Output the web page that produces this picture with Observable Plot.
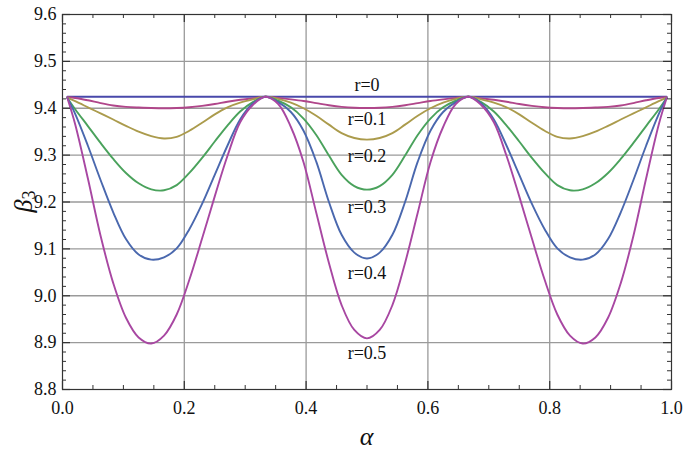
<!DOCTYPE html>
<html><head><meta charset="utf-8">
<script src="https://cdn.jsdelivr.net/npm/d3@7"></script>
<script src="https://cdn.jsdelivr.net/npm/@observablehq/plot@0.6"></script>
<style>body{margin:0;background:#fff} svg text{font-family:'Liberation Serif','DejaVu Serif',serif;}</style>
</head><body><div id="chart"></div>
<script>
// ---- data ----
const alpha = [0.008, 0.0208, 0.0417, 0.0625, 0.0833, 0.1042, 0.125, 0.1458, 0.1667, 0.1875, 0.2083, 0.2292, 0.25, 0.2708, 0.2917, 0.3125, 0.3333,
  0.3542, 0.375, 0.3958, 0.4167, 0.4375, 0.4583, 0.4792, 0.5, 0.5208, 0.5417, 0.5625, 0.5833, 0.6042, 0.625, 0.6458, 0.6667,
  0.6875, 0.7083, 0.7292, 0.75, 0.7708, 0.7917, 0.8125, 0.8333, 0.8542, 0.875, 0.8958, 0.9167, 0.9375, 0.9583, 0.9792, 0.992];

const seriesNames = ["r=0", "r=0.1", "r=0.2", "r=0.3", "r=0.4", "r=0.5"];

const alphaR0 = [0.008, 0.992];
const betaR0 = [9.4245, 9.4245];

const betaR01 = [9.4235, 9.422, 9.417, 9.411, 9.406, 9.403, 9.4015, 9.4005, 9.40, 9.4005, 9.402, 9.405, 9.409, 9.414, 9.418, 9.421, 9.4245,
  9.422, 9.419, 9.4155, 9.411, 9.4065, 9.403, 9.401, 9.4005, 9.401, 9.403, 9.4065, 9.411, 9.4155, 9.419, 9.422, 9.4245,
  9.421, 9.418, 9.414, 9.409, 9.405, 9.402, 9.4005, 9.40, 9.4005, 9.4015, 9.403, 9.406, 9.411, 9.417, 9.422, 9.4235];

const betaR02 = [9.4225, 9.415, 9.402, 9.389, 9.376, 9.3625, 9.35, 9.3405, 9.3355, 9.339, 9.352, 9.369, 9.387, 9.402, 9.412, 9.419, 9.4245,
  9.420, 9.412, 9.400, 9.384, 9.365, 9.347, 9.3365, 9.333, 9.3365, 9.347, 9.365, 9.384, 9.400, 9.412, 9.420, 9.4245,
  9.419, 9.412, 9.402, 9.387, 9.369, 9.352, 9.339, 9.3355, 9.3405, 9.35, 9.3625, 9.376, 9.389, 9.402, 9.415, 9.4225];

const betaR03 = [9.422, 9.398, 9.362, 9.326, 9.292, 9.262, 9.240, 9.227, 9.225, 9.236, 9.262, 9.294, 9.329, 9.363, 9.393, 9.413, 9.4245,
  9.416, 9.402, 9.378, 9.343, 9.299, 9.258, 9.234, 9.2263, 9.234, 9.258, 9.299, 9.343, 9.378, 9.402, 9.416, 9.4245,
  9.413, 9.393, 9.363, 9.329, 9.294, 9.262, 9.236, 9.225, 9.227, 9.240, 9.262, 9.292, 9.326, 9.362, 9.398, 9.422];

const betaR04 = [9.422, 9.388, 9.32, 9.247, 9.178, 9.121, 9.088, 9.077, 9.082, 9.101, 9.142, 9.196, 9.258, 9.32, 9.376, 9.41, 9.4245,
  9.413, 9.392, 9.352, 9.286, 9.2, 9.13, 9.092, 9.0795, 9.092, 9.13, 9.2, 9.286, 9.352, 9.392, 9.413, 9.4245,
  9.41, 9.376, 9.32, 9.258, 9.196, 9.142, 9.101, 9.082, 9.077, 9.088, 9.121, 9.178, 9.247, 9.32, 9.388, 9.422];

const betaR05 = [9.422, 9.366, 9.25, 9.128, 9.027, 8.953, 8.911, 8.898, 8.915, 8.96, 9.034, 9.122, 9.212, 9.298, 9.370, 9.407, 9.4245,
  9.409, 9.36, 9.285, 9.177, 9.07, 8.98, 8.927, 8.909, 8.927, 8.98, 9.07, 9.177, 9.285, 9.36, 9.409, 9.4245,
  9.407, 9.370, 9.298, 9.212, 9.122, 9.034, 8.96, 8.915, 8.898, 8.911, 8.953, 9.027, 9.128, 9.25, 9.366, 9.422];

const seriesColors = ["#4848aa", "#b0468a", "#ab9b4c", "#4aa25c", "#4a68ae", "#a847a2"];

const xMajorTicks = [0, 0.2, 0.4, 0.6, 0.8, 1.0];
const xGridTicks = [0.2, 0.4, 0.6, 0.8];
const xMinorTicks = [0.05, 0.1, 0.15, 0.25, 0.3, 0.35, 0.45, 0.5, 0.55, 0.65, 0.7, 0.75, 0.85, 0.9, 0.95];
const yMajorTicks = [8.8, 8.9, 9.0, 9.1, 9.2, 9.3, 9.4, 9.5, 9.6];
const yGridTicks = [8.9, 9.0, 9.1, 9.2, 9.3, 9.4, 9.5];
const yMinorTicks = [8.82, 8.84, 8.86, 8.88, 8.92, 8.94, 8.96, 8.98, 9.02, 9.04, 9.06, 9.08, 9.12, 9.14, 9.16, 9.18,
  9.22, 9.24, 9.26, 9.28, 9.32, 9.34, 9.36, 9.38, 9.42, 9.44, 9.46, 9.48, 9.52, 9.54, 9.56, 9.58];

const labelText = ["r=0", "r=0.1", "r=0.2", "r=0.3", "r=0.4", "r=0.5"];
const labelAlpha = [0.5, 0.5, 0.5, 0.5, 0.5, 0.5];
const labelBeta = [9.4485, 9.3773, 9.2968, 9.1885, 9.0474, 8.8765];

// ---- build tables ----
const seriesAlpha = [alphaR0, alpha, alpha, alpha, alpha, alpha];
const seriesBeta = [betaR0, betaR01, betaR02, betaR03, betaR04, betaR05];
const rows = [];
seriesNames.forEach((name, s) => {
  seriesBeta[s].forEach((b, i) => rows.push({alpha: seriesAlpha[s][i], beta: b, r: name}));
});
const labels = labelText.map((t, i) => ({text: t, alpha: labelAlpha[i], beta: labelBeta[i]}));

const W = 685, H = 457, mL = 62, mR = 14, mT = 14, mB = 68;
const fw = W - mL - mR, fh = H - mT - mB;
const axisColor = "#333";
const majorLen = 8, minorLen = 4;
const serif = "'Liberation Serif', 'DejaVu Serif', serif";

const chart = Plot.plot({
  width: W, height: H,
  marginLeft: mL, marginRight: mR, marginTop: mT, marginBottom: mB,
  x: {domain: [0, 1]},
  y: {domain: [8.8, 9.6]},
  color: {domain: seriesNames, range: seriesColors},
  style: {fontFamily: serif, fontSize: "18px", background: "#fff", color: "#111", overflow: "visible"},
  marks: [
    Plot.gridX(xGridTicks, {stroke: "#9a9a9a", strokeOpacity: 1, strokeWidth: 1.3}),
    Plot.gridY(yGridTicks, {stroke: "#9a9a9a", strokeOpacity: 1, strokeWidth: 1.3}),
    Plot.line(rows, {x: "alpha", y: "beta", z: "r", stroke: "r", strokeWidth: 1.9, curve: "catmull-rom"}),
    Plot.text(labels, {x: "alpha", y: "beta", text: "text", fontSize: 18, fontFamily: serif, fill: "#111"}),
    Plot.frame({stroke: axisColor, strokeWidth: 1.2}),
    // inward ticks: left / right
    Plot.tickY(yMajorTicks, {y: d => d, insetRight: fw - majorLen, stroke: axisColor, strokeWidth: 1.2}),
    Plot.tickY(yMajorTicks, {y: d => d, insetLeft: fw - majorLen, stroke: axisColor, strokeWidth: 1.2}),
    Plot.tickY(yMinorTicks, {y: d => d, insetRight: fw - minorLen, stroke: axisColor, strokeWidth: 1}),
    Plot.tickY(yMinorTicks, {y: d => d, insetLeft: fw - minorLen, stroke: axisColor, strokeWidth: 1}),
    // inward ticks: bottom / top
    Plot.tickX(xMajorTicks, {x: d => d, insetTop: fh - majorLen, stroke: axisColor, strokeWidth: 1.2}),
    Plot.tickX(xMajorTicks, {x: d => d, insetBottom: fh - majorLen, stroke: axisColor, strokeWidth: 1.2}),
    Plot.tickX(xMinorTicks, {x: d => d, insetTop: fh - minorLen, stroke: axisColor, strokeWidth: 1}),
    Plot.tickX(xMinorTicks, {x: d => d, insetBottom: fh - minorLen, stroke: axisColor, strokeWidth: 1}),
    Plot.axisX(xMajorTicks, {tickSize: 0, tickPadding: 12, tickFormat: d3.format(".1f"), label: null, fontSize: 18, fontFamily: serif, fontVariant: "normal"}),
    Plot.axisY(yMajorTicks, {tickSize: 0, tickPadding: 6, tickFormat: d3.format(".1f"), label: null, fontSize: 18, fontFamily: serif, fontVariant: "normal"})
  ]
});

// axis titles (italic Greek, with subscript)
const svg = d3.select(chart);
const yTitle = svg.append("text")
  .attr("transform", `translate(${mL - 36},${mT + fh / 2}) rotate(-90)`)
  .attr("text-anchor", "middle")
  .attr("dominant-baseline", "middle")
  .style("font-family", serif)
  .style("font-size", "26px")
  .attr("fill", "#111");
yTitle.append("tspan").style("font-style", "italic").text("β");
yTitle.append("tspan").attr("dy", "0.3em").style("font-size", "18px").text("3");

svg.append("text")
  .attr("x", mL + fw / 2)
  .attr("y", H - 12)
  .attr("text-anchor", "middle")
  .style("font-family", serif)
  .style("font-size", "26px")
  .style("font-style", "italic")
  .attr("fill", "#111")
  .text("α");

document.getElementById("chart").appendChild(chart);
</script>
</body></html>
